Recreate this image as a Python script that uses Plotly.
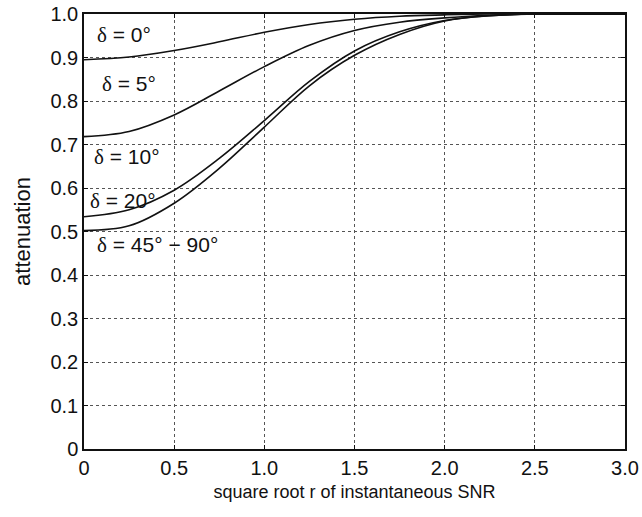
import plotly.graph_objects as go

x_vals = [0, 0.25, 0.5, 0.75, 1.0, 1.25, 1.5, 1.75, 2.0, 2.25, 2.5, 2.75, 3.0]
att_d0 = [0.895, 0.901, 0.916, 0.936, 0.958, 0.976, 0.988, 0.995, 0.998, 1.0, 1.0, 1.0, 1.0]
att_d5 = [0.718, 0.730, 0.768, 0.823, 0.879, 0.928, 0.962, 0.981, 0.991, 0.997, 1.0, 1.0, 1.0]
att_d20 = [0.534, 0.550, 0.595, 0.668, 0.755, 0.845, 0.915, 0.959, 0.985, 0.996, 1.0, 1.0, 1.0]
att_d45 = [0.502, 0.513, 0.565, 0.645, 0.740, 0.835, 0.905, 0.953, 0.984, 0.996, 1.0, 1.0, 1.0]

curve_labels = ["δ = 0°", "δ = 5°", "δ = 10°", "δ = 20°", "δ = 45° − 90°"]
label_x = [0.06, 0.089, 0.043, 0.024, 0.06]
label_y = [0.952, 0.84, 0.672, 0.569, 0.469]

x_ticks = [0, 0.5, 1.0, 1.5, 2.0, 2.5, 3.0]
x_ticktext = ["0", "0.5", "1.0", "1.5", "2.0", "2.5", "3.0"]
y_ticks = [0, 0.1, 0.2, 0.3, 0.4, 0.5, 0.6, 0.7, 0.8, 0.9, 1.0]
y_ticktext = ["0", "0.1", "0.2", "0.3", "0.4", "0.5", "0.6", "0.7", "0.8", "0.9", "1.0"]

FONT = "Liberation Sans, Arial, sans-serif"
INK = "#111111"

fig = go.Figure()
for ys in [att_d0, att_d5, att_d20, att_d45]:
    fig.add_trace(go.Scatter(x=x_vals, y=ys, mode="lines",
                             line=dict(color=INK, width=1.6, shape="spline", smoothing=1.0),
                             showlegend=False, hoverinfo="skip"))

for t, lx, ly in zip(curve_labels, label_x, label_y):
    t_html = t.replace("δ", "<span style='font-family:Liberation Serif'>δ</span>")
    fig.add_annotation(x=lx, y=ly, text=t_html, showarrow=False, xanchor="left", yanchor="middle",
                       font=dict(family=FONT, size=21, color=INK))

axis_common = dict(showline=True, linecolor=INK, linewidth=1.5, mirror="ticks",
                   ticks="inside", ticklen=4, tickcolor=INK,
                   showgrid=True, gridcolor="#555555", griddash="dot", gridwidth=1,
                   zeroline=False, automargin=False,
                   tickfont=dict(family=FONT, size=20, color=INK))

fig.update_xaxes(range=[0, 3.0], tickvals=x_ticks, ticktext=x_ticktext,
                 title=dict(text="square root r of instantaneous SNR", standoff=8,
                            font=dict(family=FONT, size=18, color=INK)),
                 **axis_common)
fig.update_yaxes(range=[0, 1.0], tickvals=y_ticks, ticktext=y_ticktext,
                 title=dict(text="attenuation", standoff=14,
                            font=dict(family=FONT, size=22, color=INK)),
                 **axis_common)

fig.update_layout(width=642, height=517, margin=dict(l=84, r=17, t=14, b=68),
                  plot_bgcolor="white", paper_bgcolor="white")

fig.write_html("out.html", config={"displayModeBar": False},
               post_script="document.body.style.margin='0';")
